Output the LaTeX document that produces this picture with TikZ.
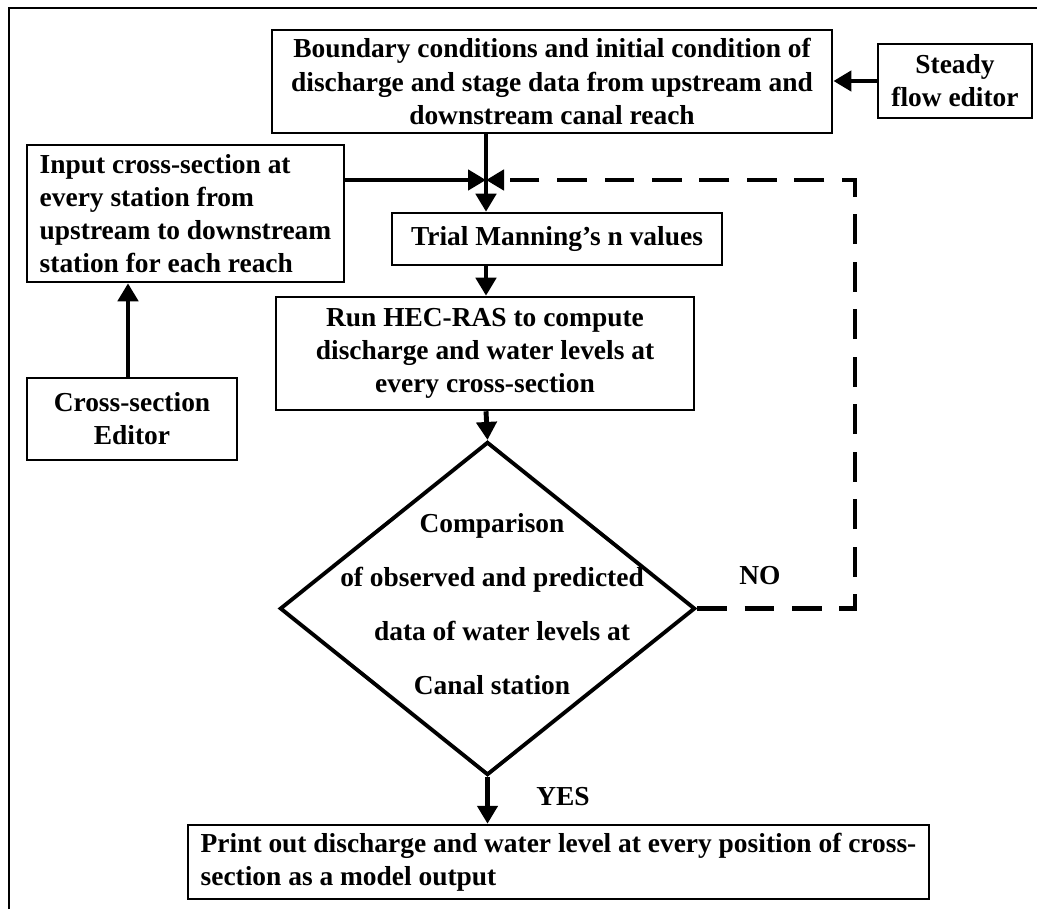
\documentclass[tikz,border=0pt]{standalone}
\usepackage{fontspec}
\setmainfont{Liberation Serif}
\usetikzlibrary{arrows.meta,shapes.geometric}
\begin{document}
\begin{tikzpicture}[x=0.01cm,y=-0.01cm,
    box/.style={draw,line width=0.7pt,inner sep=0pt,align=center,font=\fontsize{7.8}{9.4}\selectfont\bfseries},
    leftbox/.style={box,align=left},
    flow/.style={line width=1.4pt,-{Triangle[length=0.18cm,width=0.2cm]}},
    back/.style={flow,dash pattern=on 8.5pt off 5pt},
    lab/.style={font=\fontsize{7.8}{9.4}\selectfont\bfseries}]
    \useasboundingbox (0,0) rectangle (1037,909);
    \draw[line width=0.8pt] (9,909) -- (9,8) -- (1037,8);
    \node[box,minimum width=5.6cm,minimum height=1.03cm] (bnd) at (552,81.5) {Boundary conditions and initial condition of\\discharge and stage data from upstream and\\downstream canal reach};
    \node[box,minimum width=1.54cm,minimum height=0.74cm] (steady) at (955,81) {Steady\\flow editor};
    \node[leftbox,minimum width=3.17cm,minimum height=1.37cm] (input) at (185.5,213.5) {Input cross-section at\\every station from\\upstream to downstream\\station for each reach};
    \node[box,minimum width=2.1cm,minimum height=0.82cm] (xsec) at (132,419) {Cross-section\\Editor};
    \node[box,minimum width=3.3cm,minimum height=0.52cm] (trial) at (557,239) {Trial Manning's n values};
    \node[box,minimum width=4.18cm,minimum height=1.13cm] (run) at (485,353.5) {Run HEC-RAS to compute\\discharge and water levels at\\every cross-section};
    \node[diamond,draw,line width=1.1pt,inner sep=0pt,minimum width=4.15cm,minimum height=3.33cm] (cmp) at (487.5,608.5) {};
    \node[lab,align=center,font=\fontsize{7.8}{15.4}\selectfont\bfseries] (cmptxt) at (492,604) {Comparison\\of observed and predicted\\\hspace{0.2cm}data of water levels at\\Canal station};
    \node[leftbox,minimum width=7.41cm,minimum height=0.74cm] (print) at (558.5,862) {Print out discharge and water level at every position of cross-\\section as a model output};
    \coordinate (jn) at (486,180);
    \coordinate (loop) at (855,180);
    \draw[flow] (steady.west) -- (steady.west -| bnd.east);
    \draw[flow] (jn |- bnd.south) -- (jn |- trial.north);
    \draw[flow] (input.east |- jn) -- (jn);
    \draw[flow] (jn |- trial.south) -- (jn |- run.north);
    \draw[flow] (jn |- run.south) -- (cmp.north);
    \draw[flow] (xsec.north -| 128,0) -- (input.south -| 128,0);
    \draw[back] (cmp.east) -| (loop) -- (jn);
    \draw[flow] (cmp.south) -- (cmp.south |- print.north);
    \node[lab] (no) at (760,576) {NO};
    \node[lab] (yes) at (563,797) {YES};
\end{tikzpicture}
\end{document}
